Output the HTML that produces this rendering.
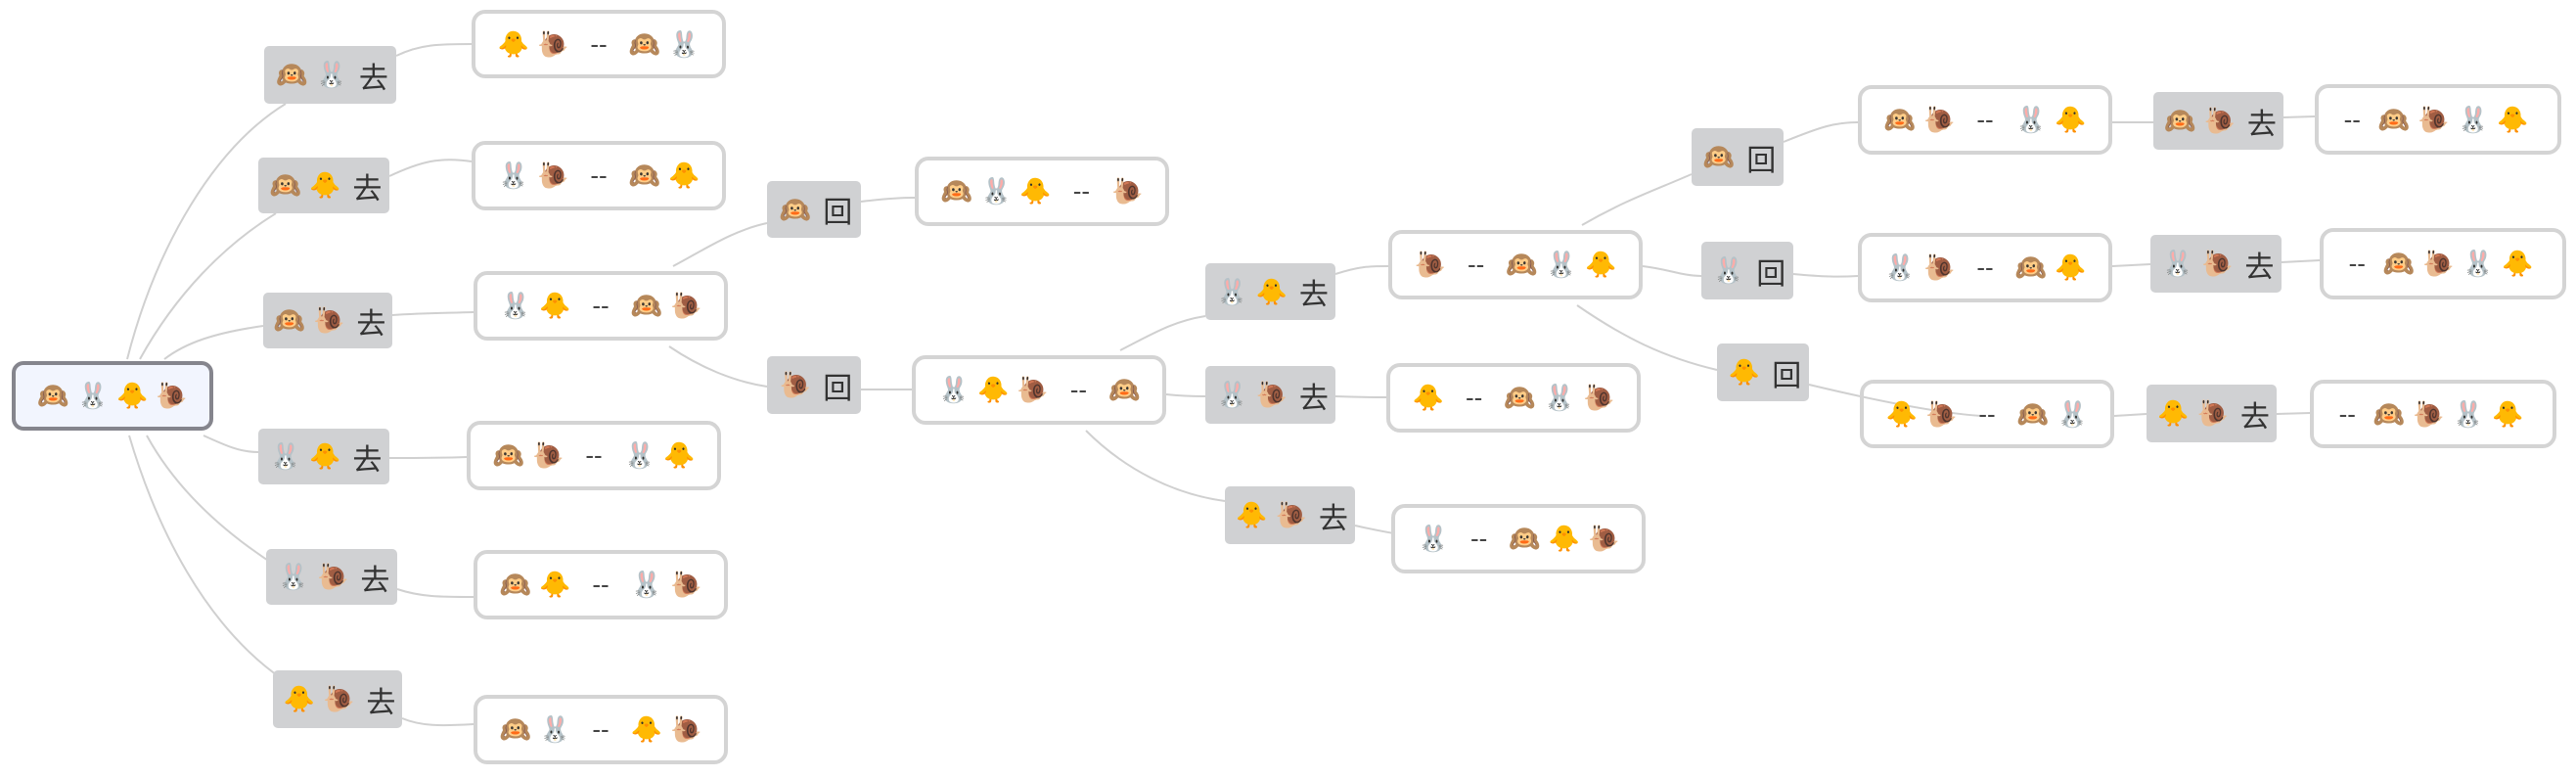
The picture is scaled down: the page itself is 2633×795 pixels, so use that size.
<!DOCTYPE html>
<html><head><meta charset="utf-8"><style>
html,body{margin:0;padding:0;background:#fff;}
body{width:2633px;height:795px;position:relative;overflow:hidden;font-family:"Liberation Sans","Noto Sans CJK SC",sans-serif;}
.n{position:absolute;box-sizing:border-box;display:flex;align-items:center;justify-content:center;color:#333;font-size:26px;white-space:nowrap;}
.l{background:#d0d1d3;border-radius:5px;font-size:26px;}
.l .t{font-size:30px;margin-left:8px;}
.b{background:#fff;border:4px solid #d4d4d4;border-radius:14px;}
.b .d{margin:0 18px;color:#444;font-size:26px;}
.r{background:#f2f5fe;border:4px solid #85858d;border-radius:12px;}
.e{margin:0 4px;}
svg{position:absolute;left:0;top:0;}
</style></head><body>
<svg width="2633" height="795" fill="none" stroke="#d0d0d0" stroke-width="2">
<path d="M130,367 C160,250 220,150 292,106"/>
<path d="M143,367 C180,300 230,250 282,218"/>
<path d="M168,367 C190,350 220,340 269,333"/>
<path d="M208,445 C230,455 245,462 264,462"/>
<path d="M150,445 C180,500 230,545 285,580"/>
<path d="M132,445 C160,540 210,640 290,695"/>
<path d="M405,57 C430,45 450,45 482,45"/>
<path d="M398,180 C430,165 450,160 482,165"/>
<path d="M401,322 C430,320 450,320 484,319"/>
<path d="M398,468 C430,468 450,468 477,467"/>
<path d="M406,602 C430,610 450,610 484,610"/>
<path d="M411,734 C430,742 450,742 484,740"/>
<path d="M688,272 C720,255 750,235 784,228"/>
<path d="M684,354 C715,375 750,390 784,395"/>
<path d="M880,206 C905,203 920,202 935,202"/>
<path d="M880,398 C905,398 920,398 932,398"/>
<path d="M1145,358 C1180,340 1200,328 1232,323"/>
<path d="M1192,403 C1210,405 1220,405 1232,405"/>
<path d="M1110,440 C1150,480 1200,505 1252,512"/>
<path d="M1365,280 C1390,272 1400,272 1419,272"/>
<path d="M1365,405 C1390,406 1400,406 1417,406"/>
<path d="M1385,537 C1420,545 1450,550 1485,552"/>
<path d="M1617,230 C1660,205 1690,195 1729,178"/>
<path d="M1679,272 C1705,275 1720,282 1739,282"/>
<path d="M1612,312 C1660,345 1700,365 1755,378"/>
<path d="M1823,145 C1860,130 1875,125 1899,125"/>
<path d="M1833,280 C1865,283 1880,283 1899,282"/>
<path d="M1849,393 C1920,410 1980,422 2025,425"/>
<path d="M2159,125 L2201,125"/>
<path d="M2159,272 L2198,270"/>
<path d="M2161,425 L2194,423"/>
<path d="M2334,120 L2366,119"/>
<path d="M2332,268 L2371,266"/>
<path d="M2327,423 L2361,422"/>
</svg>

<div class="n r" style="left:12px;top:369px;width:206px;height:71px;"><span class="e">🙉</span><span class="e">🐰</span><span class="e">🐥</span><span class="e">🐌</span></div>

<div class="n l" style="left:270px;top:47px;width:135px;height:59px;"><span class="e">🙉</span><span class="e">🐰</span><span class="t">去</span></div>
<div class="n l" style="left:264px;top:161px;width:134px;height:57px;"><span class="e">🙉</span><span class="e">🐥</span><span class="t">去</span></div>
<div class="n l" style="left:269px;top:299px;width:132px;height:57px;"><span class="e">🙉</span><span class="e">🐌</span><span class="t">去</span></div>
<div class="n l" style="left:264px;top:438px;width:134px;height:57px;"><span class="e">🐰</span><span class="e">🐥</span><span class="t">去</span></div>
<div class="n l" style="left:272px;top:561px;width:134px;height:57px;"><span class="e">🐰</span><span class="e">🐌</span><span class="t">去</span></div>
<div class="n l" style="left:279px;top:685px;width:132px;height:59px;"><span class="e">🐥</span><span class="e">🐌</span><span class="t">去</span></div>

<div class="n b" style="left:482px;top:10px;width:260px;height:70px;"><span class="e">🐥</span><span class="e">🐌</span><span class="d">--</span><span class="e">🙉</span><span class="e">🐰</span></div>
<div class="n b" style="left:482px;top:144px;width:260px;height:71px;"><span class="e">🐰</span><span class="e">🐌</span><span class="d">--</span><span class="e">🙉</span><span class="e">🐥</span></div>
<div class="n b" style="left:484px;top:277px;width:260px;height:71px;"><span class="e">🐰</span><span class="e">🐥</span><span class="d">--</span><span class="e">🙉</span><span class="e">🐌</span></div>
<div class="n b" style="left:477px;top:430px;width:260px;height:71px;"><span class="e">🙉</span><span class="e">🐌</span><span class="d">--</span><span class="e">🐰</span><span class="e">🐥</span></div>
<div class="n b" style="left:484px;top:562px;width:260px;height:71px;"><span class="e">🙉</span><span class="e">🐥</span><span class="d">--</span><span class="e">🐰</span><span class="e">🐌</span></div>
<div class="n b" style="left:484px;top:710px;width:260px;height:71px;"><span class="e">🙉</span><span class="e">🐰</span><span class="d">--</span><span class="e">🐥</span><span class="e">🐌</span></div>

<div class="n l" style="left:784px;top:185px;width:96px;height:58px;"><span class="e">🙉</span><span class="t">回</span></div>
<div class="n l" style="left:784px;top:364px;width:96px;height:59px;"><span class="e">🐌</span><span class="t">回</span></div>
<div class="n b" style="left:935px;top:160px;width:260px;height:71px;"><span class="e">🙉</span><span class="e">🐰</span><span class="e">🐥</span><span class="d">--</span><span class="e">🐌</span></div>
<div class="n b" style="left:932px;top:363px;width:260px;height:71px;"><span class="e">🐰</span><span class="e">🐥</span><span class="e">🐌</span><span class="d">--</span><span class="e">🙉</span></div>

<div class="n l" style="left:1232px;top:269px;width:133px;height:58px;"><span class="e">🐰</span><span class="e">🐥</span><span class="t">去</span></div>
<div class="n l" style="left:1232px;top:374px;width:133px;height:59px;"><span class="e">🐰</span><span class="e">🐌</span><span class="t">去</span></div>
<div class="n l" style="left:1252px;top:497px;width:133px;height:59px;"><span class="e">🐥</span><span class="e">🐌</span><span class="t">去</span></div>
<div class="n b" style="left:1419px;top:235px;width:260px;height:71px;"><span class="e">🐌</span><span class="d">--</span><span class="e">🙉</span><span class="e">🐰</span><span class="e">🐥</span></div>
<div class="n b" style="left:1417px;top:371px;width:260px;height:71px;"><span class="e">🐥</span><span class="d">--</span><span class="e">🙉</span><span class="e">🐰</span><span class="e">🐌</span></div>
<div class="n b" style="left:1422px;top:515px;width:260px;height:71px;"><span class="e">🐰</span><span class="d">--</span><span class="e">🙉</span><span class="e">🐥</span><span class="e">🐌</span></div>

<div class="n l" style="left:1729px;top:131px;width:94px;height:59px;"><span class="e">🙉</span><span class="t">回</span></div>
<div class="n l" style="left:1739px;top:247px;width:94px;height:59px;"><span class="e">🐰</span><span class="t">回</span></div>
<div class="n l" style="left:1755px;top:351px;width:94px;height:59px;"><span class="e">🐥</span><span class="t">回</span></div>
<div class="n b" style="left:1899px;top:87px;width:260px;height:71px;"><span class="e">🙉</span><span class="e">🐌</span><span class="d">--</span><span class="e">🐰</span><span class="e">🐥</span></div>
<div class="n b" style="left:1899px;top:238px;width:260px;height:71px;"><span class="e">🐰</span><span class="e">🐌</span><span class="d">--</span><span class="e">🙉</span><span class="e">🐥</span></div>
<div class="n b" style="left:1901px;top:388px;width:260px;height:70px;background:transparent;"><span class="e">🐥</span><span class="e">🐌</span><span class="d">--</span><span class="e">🙉</span><span class="e">🐰</span></div>

<div class="n l" style="left:2201px;top:94px;width:133px;height:59px;"><span class="e">🙉</span><span class="e">🐌</span><span class="t">去</span></div>
<div class="n l" style="left:2198px;top:240px;width:134px;height:59px;"><span class="e">🐰</span><span class="e">🐌</span><span class="t">去</span></div>
<div class="n l" style="left:2194px;top:393px;width:133px;height:59px;"><span class="e">🐥</span><span class="e">🐌</span><span class="t">去</span></div>
<div class="n b" style="left:2366px;top:86px;width:252px;height:72px;"><span class="d" style="margin:0 14px 0 0">--</span><span class="e">🙉</span><span class="e">🐌</span><span class="e">🐰</span><span class="e">🐥</span></div>
<div class="n b" style="left:2371px;top:233px;width:252px;height:73px;"><span class="d" style="margin:0 14px 0 0">--</span><span class="e">🙉</span><span class="e">🐌</span><span class="e">🐰</span><span class="e">🐥</span></div>
<div class="n b" style="left:2361px;top:388px;width:252px;height:70px;"><span class="d" style="margin:0 14px 0 0">--</span><span class="e">🙉</span><span class="e">🐌</span><span class="e">🐰</span><span class="e">🐥</span></div>
</body></html>
